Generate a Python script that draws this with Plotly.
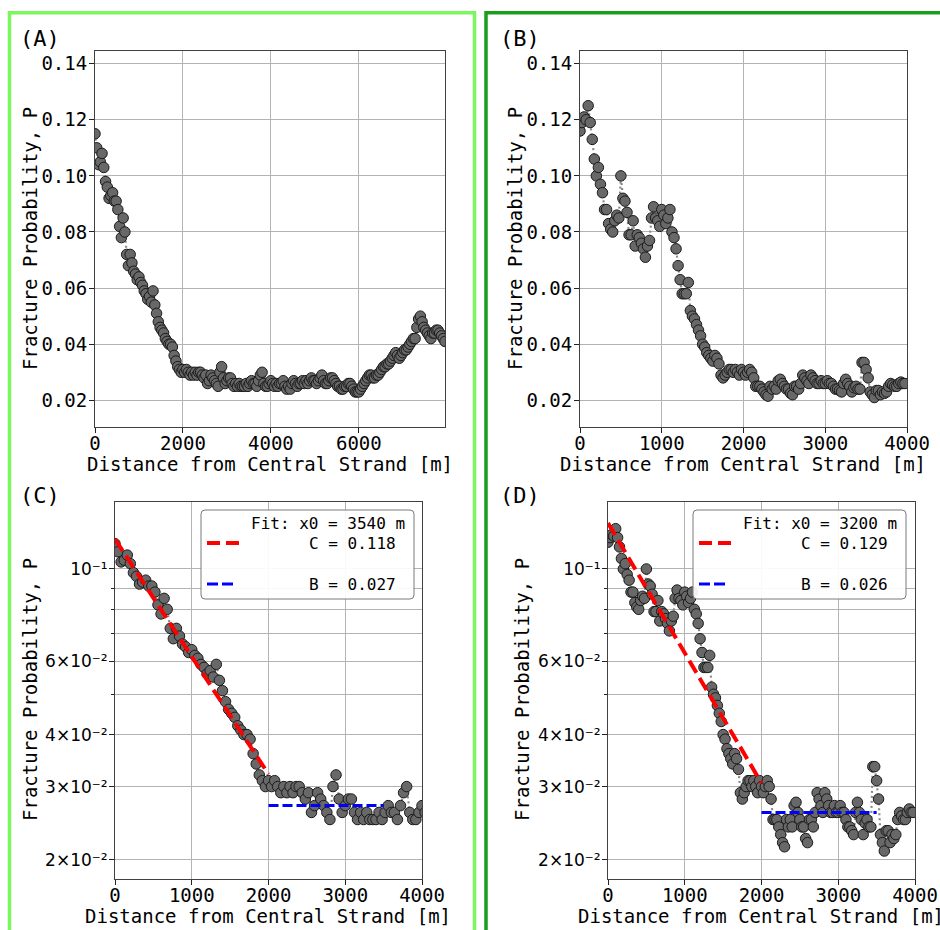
import plotly.graph_objects as go

# ---------------------------------------------------------------- data
# Profile 1: fracture probability vs distance (40 m bins)
dist_1 = [40 * i for i in range(200)]
prob_1 = [
    0.115, 0.110, 0.104, 0.105, 0.108, 0.103, 0.098, 0.096, 0.092, 0.093,
    0.094, 0.091, 0.091, 0.088, 0.082, 0.078, 0.085, 0.080, 0.072, 0.068,
    0.072, 0.069, 0.066, 0.065, 0.063, 0.064, 0.062, 0.061, 0.059, 0.058,
    0.056, 0.057, 0.055, 0.059, 0.054, 0.051, 0.048, 0.046, 0.045, 0.044,
    0.042, 0.041, 0.040, 0.040, 0.039, 0.036, 0.034, 0.032, 0.031, 0.030,
    0.031, 0.030, 0.031, 0.030, 0.029, 0.030, 0.029, 0.030, 0.029, 0.030,
    0.030, 0.029, 0.028, 0.029, 0.026, 0.027, 0.029, 0.028, 0.027, 0.026,
    0.025, 0.030, 0.032, 0.028, 0.026, 0.027, 0.028, 0.028, 0.026, 0.025,
    0.026, 0.025, 0.026, 0.025, 0.025, 0.025, 0.026, 0.025, 0.026, 0.027,
    0.026, 0.026, 0.025, 0.027, 0.029, 0.030, 0.026, 0.025, 0.025, 0.026,
    0.027, 0.026, 0.025, 0.026, 0.025, 0.026, 0.026, 0.027, 0.025, 0.024,
    0.025, 0.024, 0.026, 0.027, 0.026, 0.025, 0.026, 0.026, 0.027, 0.026,
    0.027, 0.026, 0.027, 0.028, 0.027, 0.027, 0.026, 0.027, 0.028, 0.029,
    0.027, 0.026, 0.026, 0.027, 0.028, 0.028, 0.027, 0.026, 0.025, 0.025,
    0.024, 0.024, 0.025, 0.025, 0.026, 0.026, 0.025, 0.024, 0.023, 0.023,
    0.023, 0.024, 0.025, 0.026, 0.027, 0.028, 0.029, 0.029, 0.028, 0.028,
    0.029, 0.029, 0.030, 0.031, 0.032, 0.032, 0.033, 0.033, 0.034, 0.035,
    0.036, 0.037, 0.036, 0.035, 0.036, 0.037, 0.038, 0.038, 0.039, 0.040,
    0.041, 0.042, 0.042, 0.046, 0.049, 0.050, 0.048, 0.046, 0.045, 0.044,
    0.043, 0.042, 0.044, 0.044, 0.045, 0.045, 0.044, 0.043, 0.042, 0.041,
]

# Profile 2: fracture probability vs distance (25 m bins)
dist_2 = [25 * i for i in range(160)]
prob_2 = [
    0.116, 0.119, 0.121, 0.120, 0.125, 0.119, 0.113, 0.106, 0.100, 0.103,
    0.097, 0.094, 0.088, 0.088, 0.083, 0.081, 0.080, 0.084, 0.086, 0.085,
    0.100, 0.092, 0.091, 0.087, 0.079, 0.079, 0.084, 0.075, 0.079, 0.078,
    0.076, 0.074, 0.071, 0.075, 0.077, 0.085, 0.089, 0.085, 0.084, 0.082,
    0.088, 0.086, 0.083, 0.085, 0.088, 0.080, 0.078, 0.074, 0.068, 0.063,
    0.058, 0.058, 0.058, 0.062, 0.052, 0.050, 0.049, 0.047, 0.045, 0.043,
    0.040, 0.039, 0.037, 0.036, 0.035, 0.034, 0.036, 0.035, 0.033, 0.029,
    0.028, 0.029, 0.030, 0.031, 0.031, 0.030, 0.031, 0.030, 0.029, 0.031,
    0.030, 0.029, 0.030, 0.031, 0.030, 0.028, 0.025, 0.025, 0.025, 0.024,
    0.023, 0.022, 0.0215, 0.025, 0.024, 0.025, 0.024, 0.027, 0.0275, 0.026,
    0.025, 0.024, 0.024, 0.0225, 0.022, 0.025, 0.025, 0.024, 0.026, 0.029,
    0.028, 0.027, 0.026, 0.029, 0.028, 0.027, 0.026, 0.026, 0.027, 0.026,
    0.026, 0.027, 0.026, 0.026, 0.025, 0.024, 0.024, 0.0235, 0.023, 0.026,
    0.0275, 0.026, 0.025, 0.023, 0.0245, 0.025, 0.024, 0.024, 0.0335, 0.0335,
    0.031, 0.028, 0.023, 0.022, 0.021, 0.0235, 0.0235, 0.022, 0.023, 0.0225,
    0.023, 0.025, 0.026, 0.0255, 0.025, 0.025, 0.026, 0.0265, 0.026, 0.026,
]

# Fit parameters: P = C * 10^(-x / x0) near the strand, background level B beyond
fit_1 = {"x0": 3540, "C": 0.118, "B": 0.027}
fit_2 = {"x0": 3200, "C": 0.129, "B": 0.026}
fit_decay_end = 2000
fit_background_span = [2000, 3500]

lin_ticks = [0.02, 0.04, 0.06, 0.08, 0.10, 0.12, 0.14]
lin_tick_text = ["0.02", "0.04", "0.06", "0.08", "0.10", "0.12", "0.14"]
log_ticks = [0.02, 0.03, 0.04, 0.06, 0.1]
log_tick_text = ["2×10⁻²", "3×10⁻²", "4×10⁻²", "6×10⁻²", "10⁻¹"]
log_minor_ticks = [0.05, 0.07, 0.08, 0.09]

# ---------------------------------------------------------------- layout helpers
W, H = 940, 930


def px(x):
    return x / W


def py(y):
    return 1 - y / H


MONO = "DejaVu Sans Mono"
GRID = "#b3b3b3"
MARKER = dict(size=10.5, color="#686868", line=dict(color="#1a1a1a", width=1))
DOT_LINE = dict(color="#8a8a8a", width=2.2, dash="2px,3px")

fig = go.Figure()


def add_profile(x, y, axis):
    fig.add_trace(go.Scatter(
        x=x, y=y, mode="lines+markers", marker=MARKER, line=DOT_LINE,
        xaxis="x" + axis, yaxis="y" + axis, showlegend=False, hoverinfo="x+y"))


def add_fit(fit, axis):
    n = 21
    xs = [fit_decay_end * k / (n - 1) for k in range(n)]
    ys = [fit["C"] * 10 ** (-xv / fit["x0"]) for xv in xs]
    fig.add_trace(go.Scatter(
        x=xs, y=ys, mode="lines", line=dict(color="#ff0000", width=4, dash="14px,6px"),
        xaxis="x" + axis, yaxis="y" + axis, showlegend=False))
    fig.add_trace(go.Scatter(
        x=fit_background_span, y=[fit["B"], fit["B"]], mode="lines",
        line=dict(color="#0000ff", width=3, dash="10px,4px"),
        xaxis="x" + axis, yaxis="y" + axis, showlegend=False))


add_profile(dist_1, prob_1, "")
add_profile(dist_2, prob_2, "2")
add_profile(dist_1, prob_1, "3")
add_profile(dist_2, prob_2, "4")
add_fit(fit_1, "3")
add_fit(fit_2, "4")

axis_common = dict(
    showline=True, linecolor="#404040", linewidth=1, mirror=True,
    ticks="outside", ticklen=5, tickwidth=1, tickcolor="#222",
    showgrid=True, gridcolor=GRID, gridwidth=1, zeroline=False,
    tickfont=dict(family=MONO, size=19, color="black"),
)

panels = {
    "": dict(x=(95, 445), y=(51, 427), xmax=dist_1[-1], xt=[0, 2000, 4000, 6000], log=False),
    "2": dict(x=(580, 907), y=(51, 427), xmax=4000, xt=[0, 1000, 2000, 3000, 4000], log=False),
    "3": dict(x=(115, 422), y=(502, 879), xmax=4000, xt=[0, 1000, 2000, 3000, 4000], log=True),
    "4": dict(x=(608, 915), y=(502, 879), xmax=4000, xt=[0, 1000, 2000, 3000, 4000], log=True),
}

for key, p in panels.items():
    xname = "xaxis" + key
    yname = "yaxis" + key
    fig.layout[xname] = dict(
        axis_common, domain=[px(p["x"][0]), px(p["x"][1])], range=[0, p["xmax"]],
        tickvals=p["xt"], ticktext=[str(v) for v in p["xt"]],
        ticklabelstandoff=-6, anchor="y" + key)
    if p["log"]:
        fig.layout[yname] = dict(
            axis_common, type="log", domain=[py(p["y"][1]), py(p["y"][0])],
            range=[-1.745, -0.839], tickvals=log_ticks, ticktext=log_tick_text,
            tickfont=dict(family="DejaVu Sans", size=17, color="black"),
            minor=dict(tickvals=log_minor_ticks, ticks="outside", ticklen=3,
                       tickcolor="#222", showgrid=True, gridcolor=GRID, gridwidth=1),
            ticklabelstandoff=-2, anchor="x" + key)
    else:
        fig.layout[yname] = dict(
            axis_common, domain=[py(p["y"][1]), py(p["y"][0])],
            range=[0.0105, 0.1445], tickvals=lin_ticks, ticktext=lin_tick_text,
            ticklabelstandoff=-2, anchor="x" + key)

annotations = []
shapes = []


def text(x, y, s, size=19, xanchor="center", angle=0, family=MONO):
    annotations.append(dict(
        x=px(x), y=py(y), xref="paper", yref="paper", text=s, showarrow=False,
        xanchor=xanchor, yanchor="middle", textangle=angle,
        font=dict(family=family, size=size, color="black")))


# axis titles
for cx, ty in [(270, 464), (743, 464), (268, 916), (761, 916)]:
    text(cx, ty, "Distance from Central Strand [m]")
for tx, cy in [(30, 239), (515, 239), (30, 690), (522, 690)]:
    text(tx, cy, "Fracture Probability, P", angle=-90)

# panel letters
for lx, ly, s in [(18, 38, "(A)"), (498, 38, "(B)"), (18, 495, "(C)"), (498, 495, "(D)")]:
    text(lx, ly, s, size=22, xanchor="left")


def rounded_box(x0, y0, x1, y1, r=4):
    pts = [
        f"M {px(x0 + r)},{py(y0)}", f"L {px(x1 - r)},{py(y0)}",
        f"Q {px(x1)},{py(y0)} {px(x1)},{py(y0 + r)}", f"L {px(x1)},{py(y1 - r)}",
        f"Q {px(x1)},{py(y1)} {px(x1 - r)},{py(y1)}", f"L {px(x0 + r)},{py(y1)}",
        f"Q {px(x0)},{py(y1)} {px(x0)},{py(y1 - r)}", f"L {px(x0)},{py(y0 + r)}",
        f"Q {px(x0)},{py(y0)} {px(x0 + r)},{py(y0)}", "Z",
    ]
    return dict(type="path", path=" ".join(pts), xref="paper", yref="paper",
                fillcolor="rgba(255,255,255,0.92)", line=dict(color="#7a7a7a", width=1))


def legend(fit, left, right):
    shapes.append(rounded_box(left, 510, right, 599))
    shapes.append(dict(type="line", xref="paper", yref="paper",
                       x0=px(left + 6), x1=px(left + 39), y0=py(543), y1=py(543),
                       line=dict(color="#ff0000", width=4, dash="13px,6px")))
    shapes.append(dict(type="line", xref="paper", yref="paper",
                       x0=px(left + 6), x1=px(left + 36), y0=py(584), y1=py(584),
                       line=dict(color="#0000ff", width=3, dash="11px,4px")))
    text(right - 7, 523, f"Fit: x0 = {fit['x0']} m", size=16, xanchor="right")
    text(right - 16, 543, f"C = {fit['C']:.3f}", size=16, xanchor="right")
    text(right - 16, 584, f"B = {fit['B']:.3f}", size=16, xanchor="right")


legend(fit_1, 201, 414)
legend(fit_2, 693, 906)

# panel frames
shapes.append(dict(type="rect", xref="paper", yref="paper",
                   x0=px(9.5), x1=px(474.5), y0=py(12.8), y1=py(960),
                   line=dict(color="#7cf55e", width=3.5), fillcolor="rgba(0,0,0,0)"))
shapes.append(dict(type="rect", xref="paper", yref="paper",
                   x0=px(486), x1=px(990), y0=py(12.8), y1=py(960),
                   line=dict(color="#1c9c1c", width=3.5), fillcolor="rgba(0,0,0,0)"))

fig.update_layout(
    width=W, height=H, autosize=False,
    margin=dict(l=0, r=0, t=0, b=0, pad=0, autoexpand=False),
    paper_bgcolor="white", plot_bgcolor="white",
    annotations=annotations, shapes=shapes, showlegend=False,
)

fig.write_html("out.html")
